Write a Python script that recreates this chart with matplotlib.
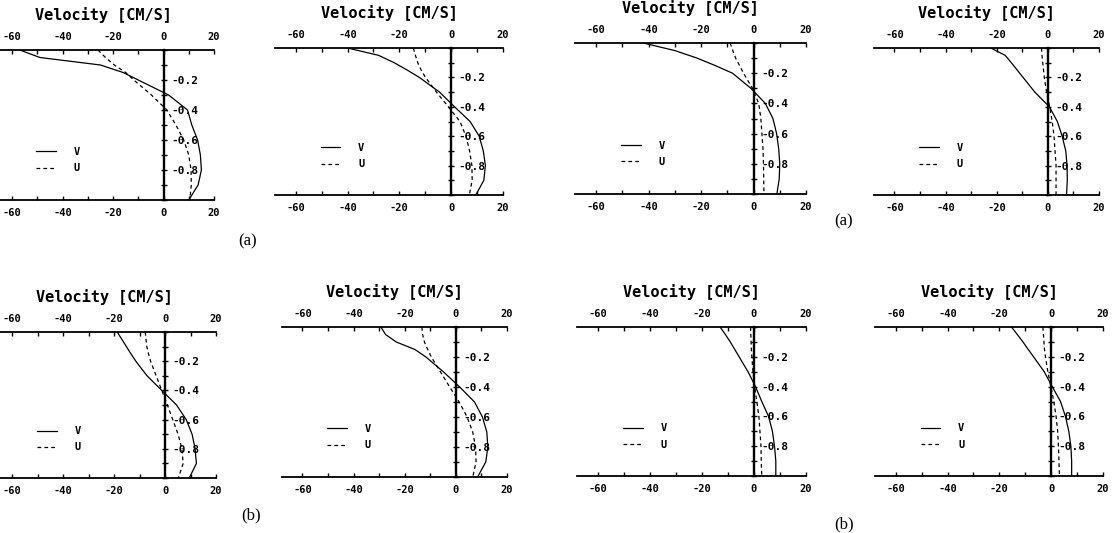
import matplotlib
matplotlib.use("Agg")
import matplotlib.pyplot as plt
from matplotlib.ticker import MultipleLocator

plt.rcParams['font.family'] = 'DejaVu Sans Mono'
plt.rcParams['font.weight'] = 'bold'

# depth below surface (fraction of water column), shared by all profiles
depth = [0, -0.05, -0.1, -0.15, -0.2, -0.3, -0.4, -0.5, -0.6, -0.7, -0.8, -0.9, -1.0]

# velocity profiles [cm/s]; v solid, u dashed
# row (a)
v_a1 = [-57, -49, -25, -16, -10, 2, 9.5, 11.2, 13.5, 14.6, 15, 13.7, 10]
u_a1 = [-26, -23, -19.5, -15, -11.8, -4.8, 1.3, 4.9, 8, 10, 10.9, 11, 10.4]
v_a2 = [-40, -28, -22, -17, -12.3, -4.5, 1.3, 7.3, 10.8, 12.4, 13.2, 12.6, 9.5]
u_a2 = [-14.6, -13.8, -12.9, -11.6, -9.9, -5.7, -1.1, 3.4, 5.7, 7.1, 8, 8.1, 7]
v_a3 = [-42, -30, -21.5, -14.5, -8, -1, 4.5, 7.4, 8.8, 9.6, 10, 9.8, 8.9]
u_a3 = [-8.9, -7.9, -6.8, -5.3, -3.8, -0.4, 2, 2.8, 3.2, 3.6, 3.8, 3.9, 4]
v_a4 = [-22.3, -16.7, -14.3, -12, -9.7, -5.1, 0.6, 3.7, 5.6, 7, 7.5, 7.6, 7.3]
u_a4 = [-2.5, -2.3, -2, -1.7, -1.4, -0.5, 0.7, 1.7, 2.4, 2.8, 3.2, 3.2, 3.2]
# row (b)
v_b1 = [-18.8, -17, -15.2, -13.4, -11.5, -7.1, -1.3, 4.5, 8.3, 10.6, 11.8, 12.3, 9.5]
u_b1 = [-7.8, -7.5, -7.2, -6.5, -5.7, -3.5, -1.3, 0.9, 3, 5.1, 6.6, 7.1, 5.2]
v_b2 = [-29.3, -27.5, -23.3, -16, -11.7, -4.8, 1.5, 7.3, 10.4, 12.1, 12.5, 11.7, 8.5]
u_b2 = [-13.3, -13, -12.3, -11, -9.6, -6, -2.4, 1.3, 4.4, 6.6, 7.7, 7.9, 6.6]
v_b3 = [-13, -11, -9.1, -7.4, -5.7, -2.3, 0.6, 3, 5.6, 7.1, 7.9, 8.4, 8.4]
u_b3 = [-1.3, -1.2, -1.1, -1, -0.8, -0.4, 0.3, 1.1, 1.9, 2.3, 2.7, 2.8, 3]
v_b4 = [-15.3, -13.1, -10.9, -8.9, -6.8, -2.7, 0.4, 3.6, 5.5, 6.8, 7.6, 7.9, 7.9]
u_b4 = [-3.2, -3, -2.8, -2.6, -2.2, -1.3, -0.1, 1, 1.9, 2.5, 2.8, 3, 3.2]

x_ticks = [-60, -40, -20, 0, 20]
x_tick_labels = ['-60', '-40', '-20', '0', '20']
y_ticks = [-0.2, -0.4, -0.6, -0.8]
y_tick_labels = ['-0.2', '-0.4', '-0.6', '-0.8']
title = 'Velocity [CM/S]'

W, H = 1115, 533
fig = plt.figure(figsize=(W / 100, H / 100), dpi=100)


def add_panel(box, v, u):
    # box in pixels: left, right, top, bottom
    l, r, t, b = box
    ax = fig.add_axes([l / W, 1 - b / H, (r - l) / W, (b - t) / H])
    ax.plot(v, depth, color='k', lw=0.9, label='V')
    ax.plot(u, depth, color='k', lw=0.9, ls='--', dashes=(3, 2.5), label='U')
    ax.set_xlim(-68, 20)
    ax.set_ylim(-1, 0)

    ax.spines['left'].set_visible(False)
    ax.spines['right'].set_position(('data', 0))
    ax.spines['right'].set_linewidth(1.7)
    ax.spines['top'].set_linewidth(1.3)
    ax.spines['bottom'].set_linewidth(1.3)

    ax.set_xticks(x_ticks, labels=x_tick_labels)
    ax.xaxis.set_minor_locator(MultipleLocator(10))
    ax.tick_params(axis='x', which='both', top=True, bottom=True, labeltop=True,
                   labelbottom=True, direction='in', length=3, width=1, pad=5.5,
                   labelsize=7.5)

    ax.yaxis.tick_right()
    ax.set_yticks(y_ticks, labels=y_tick_labels)
    ax.yaxis.set_minor_locator(MultipleLocator(0.1))
    ax.tick_params(axis='y', which='both', left=False, right=True, labelleft=False,
                   labelright=True, direction='inout', length=5, width=1, pad=3,
                   labelsize=8)

    ax.annotate(title, xy=(0.5, 1), xycoords='axes fraction', xytext=(0, 25),
                textcoords='offset points', ha='center', va='center', fontsize=11)
    ax.legend(loc='center left', bbox_to_anchor=(0.2, 0.265), frameon=False,
              fontsize=7.5, handlelength=1.9, handletextpad=1.7, labelspacing=0.6,
              borderpad=0, borderaxespad=0)
    return ax


add_panel((-8, 214, 50, 200), v_a1, u_a1)
add_panel((275, 503, 48, 195), v_a2, u_a2)
add_panel((575, 806, 43, 194), v_a3, u_a3)
add_panel((874, 1099, 48, 195), v_a4, u_a4)
add_panel((-8, 216, 332, 478), v_b1, u_b1)
add_panel((282, 507, 327, 477), v_b2, u_b2)
add_panel((577, 806, 327, 476), v_b3, u_b3)
add_panel((875, 1103, 327, 476), v_b4, u_b4)

# sub-figure labels
for txt, x, y in [('(a)', 248, 241), ('(a)', 844, 221), ('(b)', 251, 515), ('(b)', 844, 524)]:
    fig.text(x / W, 1 - y / H, txt, ha='center', va='center', fontsize=12,
             family='Liberation Serif', weight='normal')

fig.savefig('out.png', dpi=100)
